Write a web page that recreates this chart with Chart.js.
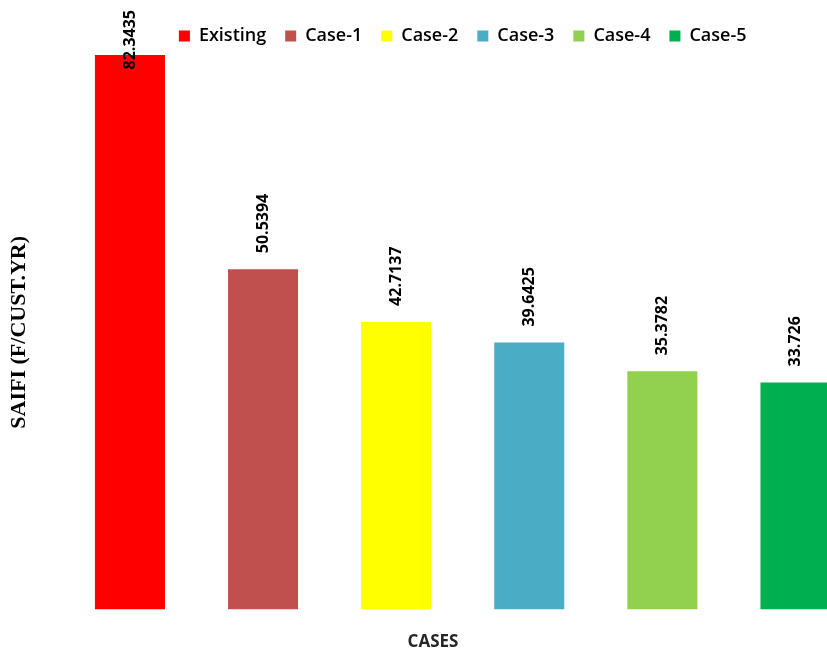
<!DOCTYPE html>
<html>
<head>
<meta charset="utf-8">
<title>SAIFI</title>
<script src="https://cdn.jsdelivr.net/npm/chart.js@4.4.1/dist/chart.umd.min.js"></script>
<style>
    html, body { margin: 0; padding: 0; overflow: hidden; background: #ffffff; }
    #wrap { width: 870px; height: 655px; position: relative; }
</style>
</head>
<body>
<div id="wrap"><canvas id="saifiChart"></canvas></div>
<script>
"use strict";

var caseLabels = ["Existing", "Case-1", "Case-2", "Case-3", "Case-4", "Case-5"];
var saifiValues = [82.3435, 50.5394, 42.7137, 39.6425, 35.3782, 33.726];
var caseColors = ["#FF0000", "#C0504D", "#FFFF00", "#4BACC6", "#92D050", "#00B050"];

/* rotated value labels above each bar */
var verticalValueLabels = {
    id: "verticalValueLabels",
    afterDatasetsDraw: function (chart) {
        var ctx = chart.ctx;
        var meta = chart.getDatasetMeta(0);
        ctx.save();
        ctx.font = "bold 16px 'Open Sans'";
        ctx.fillStyle = "#000000";
        ctx.textAlign = "left";
        ctx.textBaseline = "middle";
        meta.data.forEach(function (bar, i) {
            var text = String(saifiValues[i]);
            var w = ctx.measureText(text).width;
            var y = bar.y - 16;
            if (y - w < 10) {
                y = 10 + w;
            }
            ctx.save();
            ctx.translate(bar.x, y);
            ctx.rotate(-Math.PI / 2);
            ctx.fillText(text, 0, 0);
            ctx.restore();
        });
        ctx.restore();
    }
};

var ctx1 = document.getElementById("saifiChart");
var chart1 = new Chart(ctx1, {
    type: "bar",
    data: {
        labels: caseLabels,
        datasets: [{
            data: saifiValues,
            backgroundColor: caseColors,
            borderWidth: 0,
            categoryPercentage: 1,
            barPercentage: 0.526
        }]
    },
    options: {
        responsive: true,
        maintainAspectRatio: false,
        animation: false,
        layout: {
            padding: { top: 8, right: 8, bottom: 0, left: 4 }
        },
        scales: {
            x: {
                display: false
            },
            y: {
                min: 0,
                max: 82.3435,
                grid: { display: false },
                border: { display: false },
                ticks: { display: false },
                title: {
                    display: true,
                    text: "SAIFI (F/CUST.YR)",
                    color: "#000000",
                    font: { family: "'Liberation Serif'", size: 22, weight: "bold" },
                    padding: { top: 2, bottom: 23 }
                }
            }
        },
        plugins: {
            tooltip: { enabled: false },
            legend: {
                position: "top",
                fullSize: false,
                onClick: null,
                labels: {
                    boxWidth: 11,
                    boxHeight: 11,
                    padding: 19,
                    color: "#595959",
                    font: { family: "'Open Sans'", size: 18, weight: "600" },
                    generateLabels: function (chart) {
                        return chart.data.labels.map(function (label, i) {
                            return {
                                text: label,
                                fillStyle: caseColors[i],
                                strokeStyle: caseColors[i],
                                lineWidth: 0,
                                index: i
                            };
                        });
                    }
                }
            },
            title: {
                display: true,
                position: "bottom",
                text: "CASES",
                color: "#262626",
                font: { family: "'Open Sans'", size: 17, weight: "bold" },
                padding: { top: 22, bottom: 3 }
            }
        }
    },
    plugins: [verticalValueLabels]
});
</script>
</body>
</html>
